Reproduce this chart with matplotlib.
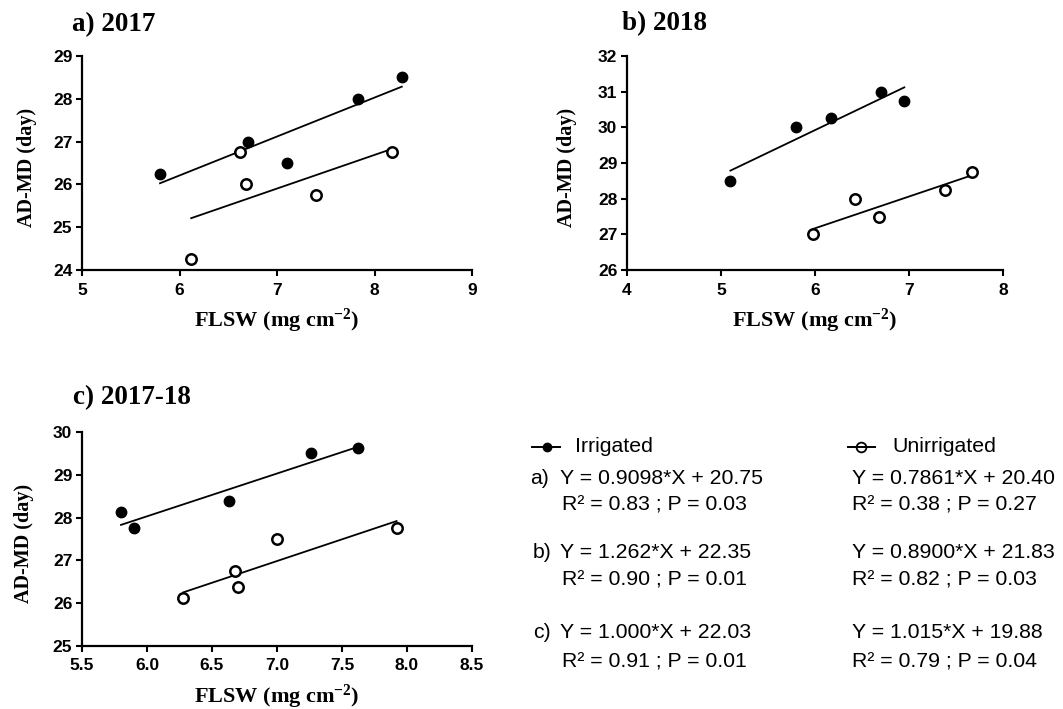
import numpy as np
import matplotlib
matplotlib.use("Agg")
import matplotlib.pyplot as plt
from matplotlib.ticker import FormatStrFormatter

# ---------------- data ----------------
panel_titles = ["a) 2017", "b) 2018", "c) 2017-18"]

irr_x_a = [5.80, 6.70, 7.10, 7.83, 8.28]
irr_y_a = [26.25, 27.00, 26.50, 28.00, 28.50]
unirr_x_a = [6.12, 6.62, 6.68, 7.40, 8.18]
unirr_y_a = [24.25, 26.75, 26.00, 25.75, 26.75]

irr_x_b = [5.10, 5.80, 6.17, 6.70, 6.95]
irr_y_b = [28.50, 30.00, 30.25, 31.00, 30.75]
unirr_x_b = [5.98, 6.43, 6.68, 7.38, 7.67]
unirr_y_b = [27.00, 28.00, 27.50, 28.25, 28.75]

irr_x_c = [5.80, 5.90, 6.63, 7.26, 7.62]
irr_y_c = [28.13, 27.75, 28.38, 29.50, 29.63]
unirr_x_c = [6.28, 6.68, 6.70, 7.00, 7.92]
unirr_y_c = [26.13, 26.75, 26.38, 27.50, 27.75]

irr_slope = [0.9098, 1.262, 1.000]
irr_intercept = [20.75, 22.35, 22.03]
irr_r2 = [0.83, 0.90, 0.91]
irr_p = [0.03, 0.01, 0.01]
unirr_slope = [0.7861, 0.8900, 1.015]
unirr_intercept = [20.40, 21.83, 19.88]
unirr_r2 = [0.38, 0.82, 0.79]
unirr_p = [0.27, 0.03, 0.04]

xticks_a = [5, 6, 7, 8, 9]
yticks_a = [24, 25, 26, 27, 28, 29]
xticks_b = [4, 5, 6, 7, 8]
yticks_b = [26, 27, 28, 29, 30, 31, 32]
xticks_c = [5.5, 6.0, 6.5, 7.0, 7.5, 8.0, 8.5]
yticks_c = [25, 26, 27, 28, 29, 30]

series_labels = ["Irrigated", "Unirrigated"]
panel_tags = ["a)", "b)", "c)"]
x_label = r"FLSW (mg cm$^{-2}$)"
y_label = "AD-MD (day)"

# ---------------- style ----------------
plt.rcParams['mathtext.fontset'] = 'custom'
plt.rcParams['mathtext.rm'] = 'Liberation Serif'
plt.rcParams['mathtext.bf'] = 'Liberation Serif:bold'
plt.rcParams['mathtext.default'] = 'bf'

W, H = 1063, 709
fig = plt.figure(figsize=(W / 100, H / 100), dpi=100)

def px_rect(left, top, right, bottom):
    return [left / W, 1 - bottom / H, (right - left) / W, (bottom - top) / H]

rects = [px_rect(82, 56, 472, 270), px_rect(627, 56, 1003, 270), px_rect(82, 432, 472, 646)]
xt = [xticks_a, xticks_b, xticks_c]
yt = [yticks_a, yticks_b, yticks_c]
data = [
    (irr_x_a, irr_y_a, unirr_x_a, unirr_y_a),
    (irr_x_b, irr_y_b, unirr_x_b, unirr_y_b),
    (irr_x_c, irr_y_c, unirr_x_c, unirr_y_c),
]
ylab_x = [-0.115, -0.133, -0.123]

for i in range(3):
    ax = fig.add_axes(rects[i])
    ix, iy, ux, uy = data[i]
    # regression lines
    xl = np.array([min(ix), max(ix)])
    ax.plot(xl, irr_slope[i] * xl + irr_intercept[i], color='black', lw=1.3, zorder=2)
    xl = np.array([min(ux), max(ux)])
    ax.plot(xl, unirr_slope[i] * xl + unirr_intercept[i], color='black', lw=1.3, zorder=2)
    ax.plot(ix, iy, 'o', ms=7.5, color='black', zorder=3, clip_on=False)
    ax.plot(ux, uy, 'o', ms=7.5, mfc='white', mec='black', mew=1.8, zorder=3, clip_on=False)

    ax.set_xlim(xt[i][0], xt[i][-1])
    ax.set_ylim(yt[i][0], yt[i][-1])
    ax.set_xticks(xt[i])
    ax.set_yticks(yt[i])
    if i == 2:
        ax.xaxis.set_major_formatter(FormatStrFormatter('%.1f'))
    for s in ['top', 'right']:
        ax.spines[s].set_visible(False)
    for s in ['left', 'bottom']:
        ax.spines[s].set_linewidth(1.6)
    ax.tick_params(direction='out', length=4, width=1.5, pad=3, labelsize=12.5)
    for lab in ax.get_xticklabels() + ax.get_yticklabels():
        lab.set_fontfamily('Liberation Sans')
        lab.set_fontweight('bold')
    ax.tick_params(axis='x', pad=5)
    ax.set_xlabel(x_label, fontfamily='Liberation Serif', fontweight='bold', fontsize=16)
    ax.xaxis.set_label_coords(0.5, -0.17)
    ax.set_ylabel(y_label, fontfamily='Liberation Serif', fontweight='bold', fontsize=14.5)
    ax.yaxis.set_label_coords(ylab_x[i], 0.48)

# overlay in pixel coordinates for titles / legend text
ov = fig.add_axes([0, 0, 1, 1])
ov.set_xlim(0, W)
ov.set_ylim(H, 0)
ov.axis('off')

title_pos = [(72, 25), (622, 24), (73, 398)]
for t, (x, y) in zip(panel_titles, title_pos):
    ov.text(x, y, t, fontfamily='Liberation Serif', fontweight='bold', fontsize=19.5,
            ha='left', va='center')

# legend
fs = 15.3
ov.plot([532, 560], [447, 447], color='black', lw=1.4)
ov.plot([547], [447], 'o', color='black', ms=6)
ov.text(575, 446, series_labels[0], fontfamily='Liberation Sans', fontsize=fs, va='center')
ov.plot([848, 861, 875], [447, 447, 447], color='black', lw=1.4, marker='o',
        markevery=[1], mfc='none', mec='black', ms=7, mew=1.3)
ov.text(892, 446, series_labels[1], fontfamily='Liberation Sans', fontsize=fs, va='center')

eq_rows = [(478, 505), (553, 580), (633, 662)]
tag_x = [530, 533, 533]
for i in range(3):
    y1, y2 = eq_rows[i]
    ov.text(tag_x[i], y1, panel_tags[i], fontfamily='Liberation Sans', fontsize=fs, va='center')
    ov.text(560, y1, f"Y = {irr_slope[i]:#.4g}*X + {irr_intercept[i]:.2f}",
            fontfamily='Liberation Sans', fontsize=fs, va='center')
    ov.text(562, y2, f"R\u00b2 = {irr_r2[i]:.2f} ; P = {irr_p[i]:.2f}",
            fontfamily='Liberation Sans', fontsize=fs, va='center')
    ov.text(852, y1, f"Y = {unirr_slope[i]:#.4g}*X + {unirr_intercept[i]:.2f}",
            fontfamily='Liberation Sans', fontsize=fs, va='center')
    ov.text(852, y2, f"R\u00b2 = {unirr_r2[i]:.2f} ; P = {unirr_p[i]:.2f}",
            fontfamily='Liberation Sans', fontsize=fs, va='center')

fig.savefig("out.png", dpi=100)
